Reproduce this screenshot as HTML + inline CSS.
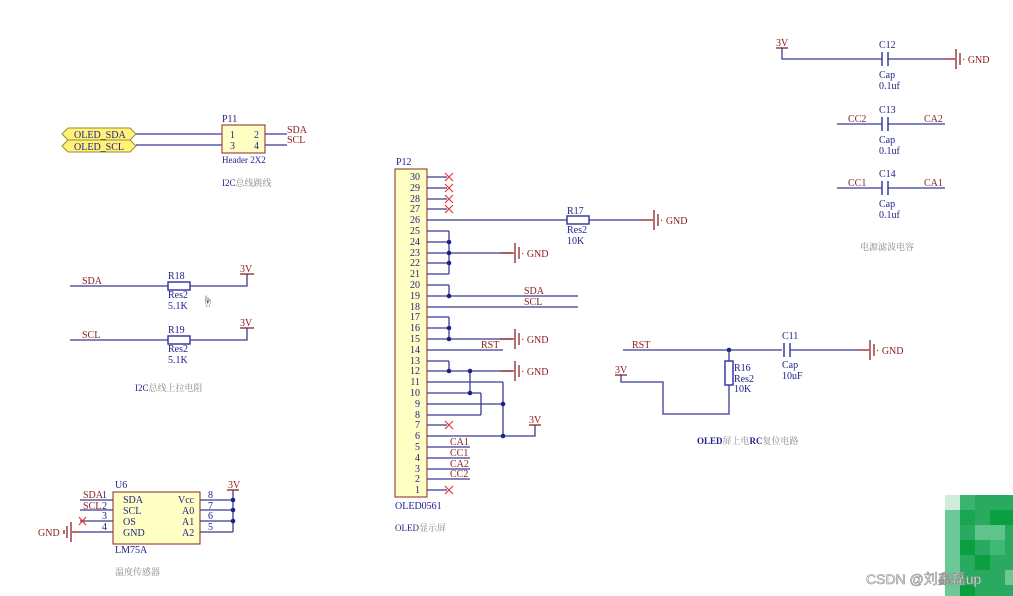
<!DOCTYPE html>
<html><head><meta charset="utf-8"><style>
html,body{margin:0;padding:0;background:#fff;}
svg{display:block;}
text{font-family:"Liberation Serif","Noto Serif CJK SC",serif;font-size:10px;}
.w{stroke:#3a3a94;stroke-width:1.3;fill:none;}
.r{stroke:#8b2323;stroke-width:1.3;fill:none;}
.b{fill:#20208a;}
.n{fill:#8b1a1a;}
.g{fill:#888;font-size:9px;}
.x{stroke:#e83030;stroke-width:1.1;}
</style></head><body>
<svg width="1013" height="596" viewBox="0 0 1013 596" xmlns="http://www.w3.org/2000/svg">
<rect width="1013" height="596" fill="#fff"/>

<!-- P11 header -->
<polygon points="62,134 68,128 130,128 136,134 130,140 68,140" fill="#fff27a" stroke="#a08a20"/>
<polygon points="62,146 68,140 130,140 136,146 130,152 68,152" fill="#fff27a" stroke="#a08a20"/>
<text x="74" y="138" class="b">OLED_SDA</text>
<text x="74" y="150" class="b">OLED_SCL</text>
<line x1="136" y1="134" x2="222" y2="134" class="w"/>
<line x1="136" y1="145" x2="222" y2="145" class="w"/>
<rect x="222" y="125" width="43" height="28" fill="#ffffc4" stroke="#8b2323"/>
<text x="222" y="122" class="b">P11</text>
<text x="230" y="138" class="b">1</text><text x="254" y="138" class="b">2</text>
<text x="230" y="149" class="b">3</text><text x="254" y="149" class="b">4</text>
<line x1="265" y1="134" x2="287" y2="134" class="w"/>
<line x1="265" y1="145" x2="287" y2="145" class="w"/>
<text x="287" y="133" class="n">SDA</text><text x="287" y="143" class="n">SCL</text>
<text x="222" y="163" class="b" style="font-size:9px">Header 2X2</text>
<text x="222" y="186" class="g"><tspan fill="#20208a">I2C</tspan>总线跳线</text>

<!-- pullups -->
<line x1="70" y1="286" x2="168" y2="286" class="w"/>
<rect x="168" y="282" width="22" height="8" fill="#fff" stroke="#3a3aa0" stroke-width="1.5"/>
<polyline points="190,286 247,286 247,274" class="w"/>
<line x1="240" y1="274" x2="254" y2="274" class="r"/>
<text x="240" y="272" class="n">3V</text>
<text x="82" y="284" class="n">SDA</text>
<text x="168" y="279" class="b">R18</text>
<text x="168" y="298" class="b">Res2</text>
<text x="168" y="309" class="b">5.1K</text>
<text x="202" y="305" fill="#333" style="font-size:11px">☝</text>
<line x1="70" y1="340" x2="168" y2="340" class="w"/>
<rect x="168" y="336" width="22" height="8" fill="#fff" stroke="#3a3aa0" stroke-width="1.5"/>
<polyline points="190,340 247,340 247,328" class="w"/>
<line x1="240" y1="328" x2="254" y2="328" class="r"/>
<text x="240" y="326" class="n">3V</text>
<text x="82" y="338" class="n">SCL</text>
<text x="168" y="333" class="b">R19</text>
<text x="168" y="352" class="b">Res2</text>
<text x="168" y="363" class="b">5.1K</text>
<text x="135" y="391" class="g"><tspan fill="#20208a">I2C</tspan>总线上拉电阻</text>

<!-- U6 -->
<rect x="113" y="492" width="87" height="52" fill="#ffffc4" stroke="#8b2323"/>
<text x="115" y="488" class="b">U6</text>
<text x="115" y="553" class="b">LM75A</text>
<text x="115" y="575" class="g">温度传感器</text>
<line x1="80" y1="500" x2="113" y2="500" class="w"/>
<line x1="80" y1="510" x2="113" y2="510" class="w"/>
<line x1="80" y1="521" x2="113" y2="521" class="w"/>
<line x1="80" y1="532" x2="113" y2="532" class="w"/>
<text x="83" y="498" class="n">SDA</text>
<text x="83" y="509" class="n">SCL</text>
<g class="b" text-anchor="end">
<text x="107" y="498">1</text><text x="107" y="509">2</text>
<text x="107" y="519">3</text><text x="107" y="530">4</text>
</g>
<text x="123" y="503" class="b">SDA</text><text x="123" y="514" class="b">SCL</text>
<text x="123" y="525" class="b">OS</text><text x="123" y="536" class="b">GND</text>
<text x="178" y="503" class="b">Vcc</text><text x="182" y="514" class="b">A0</text>
<text x="182" y="525" class="b">A1</text><text x="182" y="536" class="b">A2</text>
<line x1="79" y1="517" x2="86" y2="525" class="x"/><line x1="86" y1="517" x2="79" y2="525" class="x"/>
<line x1="72" y1="532" x2="80" y2="532" class="r"/>
<line x1="71" y1="522" x2="71" y2="542" class="r"/>
<line x1="67" y1="526" x2="67" y2="538" class="r"/>
<line x1="64" y1="530" x2="64" y2="534" class="r"/>
<text x="38" y="536" class="n">GND</text>
<line x1="200" y1="500" x2="233" y2="500" class="w"/>
<line x1="200" y1="510" x2="233" y2="510" class="w"/>
<line x1="200" y1="521" x2="233" y2="521" class="w"/>
<line x1="200" y1="532" x2="233" y2="532" class="w"/>
<text x="208" y="498" class="b">8</text><text x="208" y="509" class="b">7</text>
<text x="208" y="519" class="b">6</text><text x="208" y="530" class="b">5</text>
<line x1="233" y1="490" x2="233" y2="532" class="w"/>
<line x1="227" y1="490" x2="239" y2="490" class="r"/>
<text x="228" y="488" class="n">3V</text>
<circle cx="233" cy="500" r="2.3" fill="#20208a"/><circle cx="233" cy="510" r="2.3" fill="#20208a"/><circle cx="233" cy="521" r="2.3" fill="#20208a"/>

<!-- P12 -->
<rect x="395" y="169" width="32" height="328" fill="#ffffc4" stroke="#8b2323"/>
<text x="396" y="165" class="b">P12</text>
<text x="395" y="509" class="b">OLED0561</text>
<text x="395" y="531" class="g"><tspan fill="#20208a">OLED</tspan>显示屏</text>
<g class="b" text-anchor="end">
<text x="420" y="180">30</text><text x="420" y="191">29</text><text x="420" y="202">28</text><text x="420" y="212">27</text><text x="420" y="223">26</text>
<text x="420" y="234">25</text><text x="420" y="245">24</text><text x="420" y="256">23</text><text x="420" y="266">22</text><text x="420" y="277">21</text>
<text x="420" y="288">20</text><text x="420" y="299">19</text><text x="420" y="310">18</text><text x="420" y="320">17</text><text x="420" y="331">16</text>
<text x="420" y="342">15</text><text x="420" y="353">14</text><text x="420" y="364">13</text><text x="420" y="374">12</text><text x="420" y="385">11</text>
<text x="420" y="396">10</text><text x="420" y="407">9</text><text x="420" y="418">8</text><text x="420" y="428">7</text><text x="420" y="439">6</text>
<text x="420" y="450">5</text><text x="420" y="461">4</text><text x="420" y="472">3</text><text x="420" y="482">2</text><text x="420" y="493">1</text>
</g>
<g class="w">
<line x1="427" y1="177" x2="447" y2="177"/><line x1="427" y1="188" x2="447" y2="188"/><line x1="427" y1="199" x2="447" y2="199"/><line x1="427" y1="209" x2="447" y2="209"/>
<line x1="427" y1="220" x2="567" y2="220"/>
<line x1="427" y1="231" x2="449" y2="231"/><line x1="427" y1="242" x2="449" y2="242"/><line x1="427" y1="253" x2="512" y2="253"/><line x1="427" y1="263" x2="449" y2="263"/><line x1="427" y1="274" x2="449" y2="274"/>
<line x1="449" y1="231" x2="449" y2="274"/>
<line x1="427" y1="285" x2="449" y2="285"/><line x1="449" y1="285" x2="449" y2="296"/>
<line x1="427" y1="296" x2="578" y2="296"/><line x1="427" y1="307" x2="578" y2="307"/>
<line x1="427" y1="317" x2="449" y2="317"/><line x1="427" y1="328" x2="449" y2="328"/><line x1="427" y1="339" x2="512" y2="339"/><line x1="449" y1="317" x2="449" y2="339"/>
<line x1="427" y1="350" x2="503" y2="350"/>
<line x1="427" y1="361" x2="449" y2="361"/><line x1="449" y1="361" x2="449" y2="371"/><line x1="427" y1="371" x2="512" y2="371"/>
<line x1="470" y1="371" x2="470" y2="393"/>
<line x1="427" y1="382" x2="503" y2="382"/>
<line x1="427" y1="393" x2="481" y2="393"/><line x1="427" y1="404" x2="503" y2="404"/><line x1="427" y1="415" x2="481" y2="415"/><line x1="481" y1="393" x2="481" y2="415"/>
<line x1="503" y1="382" x2="503" y2="436"/>
<line x1="427" y1="425" x2="447" y2="425"/>
<polyline points="427,436 535,436 535,425"/>
<line x1="427" y1="447" x2="470" y2="447"/><line x1="427" y1="458" x2="470" y2="458"/><line x1="427" y1="469" x2="470" y2="469"/><line x1="427" y1="479" x2="470" y2="479"/>
<line x1="427" y1="490" x2="447" y2="490"/>
</g>
<line x1="529" y1="425" x2="541" y2="425" class="r"/>
<text x="529" y="423" class="n">3V</text>
<g fill="#20208a">
<circle cx="449" cy="242" r="2.3"/><circle cx="449" cy="253" r="2.3"/><circle cx="449" cy="263" r="2.3"/>
<circle cx="449" cy="296" r="2.3"/><circle cx="449" cy="328" r="2.3"/><circle cx="449" cy="339" r="2.3"/>
<circle cx="449" cy="371" r="2.3"/><circle cx="470" cy="371" r="2.3"/><circle cx="470" cy="393" r="2.3"/>
<circle cx="503" cy="404" r="2.3"/><circle cx="503" cy="436" r="2.3"/>
</g>
<g class="x">
<path d="M445,173 l8,8 M453,173 l-8,8"/><path d="M445,184 l8,8 M453,184 l-8,8"/><path d="M445,195 l8,8 M453,195 l-8,8"/><path d="M445,205 l8,8 M453,205 l-8,8"/>
<path d="M445,421 l8,8 M453,421 l-8,8"/><path d="M445,486 l8,8 M453,486 l-8,8"/>
</g>
<text x="524" y="294" class="n">SDA</text><text x="524" y="305" class="n">SCL</text>
<text x="481" y="348" class="n">RST</text>
<text x="450" y="445" class="n">CA1</text><text x="450" y="456" class="n">CC1</text><text x="450" y="467" class="n">CA2</text><text x="450" y="477" class="n">CC2</text>
<g class="r">
<line x1="500" y1="253" x2="514" y2="253"/><line x1="515" y1="243" x2="515" y2="263"/><line x1="519" y1="247" x2="519" y2="259"/>
<line x1="500" y1="339" x2="514" y2="339"/><line x1="515" y1="329" x2="515" y2="349"/><line x1="519" y1="333" x2="519" y2="345"/>
<line x1="500" y1="371" x2="514" y2="371"/><line x1="515" y1="361" x2="515" y2="381"/><line x1="519" y1="365" x2="519" y2="377"/>
</g>
<text x="521" y="257" class="n">· GND</text><text x="521" y="343" class="n">· GND</text><text x="521" y="375" class="n">· GND</text>
<rect x="567" y="216" width="22" height="8" fill="#fff" stroke="#3a3aa0" stroke-width="1.5"/>
<line x1="589" y1="220" x2="640" y2="220" class="w"/>
<g class="r"><line x1="640" y1="220" x2="653" y2="220"/><line x1="654" y1="210" x2="654" y2="230"/><line x1="658" y1="214" x2="658" y2="226"/></g>
<text x="660" y="224" class="n">· GND</text>
<text x="567" y="214" class="b">R17</text><text x="567" y="233" class="b">Res2</text><text x="567" y="244" class="b">10K</text>

<!-- RC reset -->
<line x1="623" y1="350" x2="782" y2="350" class="w"/>
<text x="632" y="348" class="n">RST</text>
<circle cx="729" cy="350" r="2.3" fill="#20208a"/>
<line x1="729" y1="350" x2="729" y2="361" class="w"/>
<rect x="725" y="361" width="8" height="24" fill="#fff" stroke="#3a3aa0" stroke-width="1.5"/>
<polyline points="729,385 729,414 663,414 663,382 621,382 621,375" class="w"/>
<line x1="615" y1="375" x2="627" y2="375" class="r"/>
<text x="615" y="373" class="n">3V</text>
<text x="734" y="371" class="b">R16</text><text x="734" y="382" class="b">Res2</text><text x="734" y="392" class="b">10K</text>
<line x1="784" y1="343" x2="784" y2="357" stroke="#3a3aa0" stroke-width="1.5"/><line x1="790" y1="343" x2="790" y2="357" stroke="#3a3aa0" stroke-width="1.5"/>
<line x1="790" y1="350" x2="858" y2="350" class="w"/>
<g class="r"><line x1="858" y1="350" x2="869" y2="350"/><line x1="870" y1="340" x2="870" y2="360"/><line x1="874" y1="344" x2="874" y2="356"/></g>
<text x="876" y="354" class="n">· GND</text>
<text x="782" y="339" class="b">C11</text><text x="782" y="368" class="b">Cap</text><text x="782" y="379" class="b">10uF</text>
<text x="697" y="444" class="g"><tspan fill="#20208a" font-weight="bold">OLED</tspan>屏上电<tspan fill="#20208a" font-weight="bold">RC</tspan>复位电路</text>

<!-- caps top right -->
<line x1="776" y1="48" x2="788" y2="48" class="r"/>
<text x="776" y="46" class="n">3V</text>
<polyline points="782,48 782,59 882,59" class="w"/>
<line x1="882" y1="52" x2="882" y2="66" stroke="#3a3aa0" stroke-width="1.5"/><line x1="888" y1="52" x2="888" y2="66" stroke="#3a3aa0" stroke-width="1.5"/>
<line x1="888" y1="59" x2="945" y2="59" class="w"/>
<g class="r"><line x1="945" y1="59" x2="955" y2="59"/><line x1="956" y1="49" x2="956" y2="69"/><line x1="960" y1="53" x2="960" y2="65"/></g>
<text x="962" y="63" class="n">· GND</text>
<text x="879" y="48" class="b">C12</text><text x="879" y="78" class="b">Cap</text><text x="879" y="89" class="b">0.1uf</text>

<line x1="837" y1="124" x2="882" y2="124" class="w"/>
<line x1="882" y1="117" x2="882" y2="131" stroke="#3a3aa0" stroke-width="1.5"/><line x1="888" y1="117" x2="888" y2="131" stroke="#3a3aa0" stroke-width="1.5"/>
<line x1="888" y1="124" x2="945" y2="124" class="w"/>
<text x="848" y="122" class="n">CC2</text><text x="924" y="122" class="n">CA2</text>
<text x="879" y="113" class="b">C13</text><text x="879" y="143" class="b">Cap</text><text x="879" y="154" class="b">0.1uf</text>

<line x1="837" y1="188" x2="882" y2="188" class="w"/>
<line x1="882" y1="181" x2="882" y2="195" stroke="#3a3aa0" stroke-width="1.5"/><line x1="888" y1="181" x2="888" y2="195" stroke="#3a3aa0" stroke-width="1.5"/>
<line x1="888" y1="188" x2="945" y2="188" class="w"/>
<text x="848" y="186" class="n">CC1</text><text x="924" y="186" class="n">CA1</text>
<text x="879" y="177" class="b">C14</text><text x="879" y="207" class="b">Cap</text><text x="879" y="218" class="b">0.1uf</text>
<text x="860" y="250" class="g">电源滤波电容</text>

<!-- watermark block -->
<g>
<rect x="945" y="495" width="68" height="101" fill="#2aaa60"/>
<rect x="945" y="495" width="15" height="15" fill="#d0ecdc"/>
<rect x="960" y="495" width="15" height="15" fill="#3cb371"/>
<rect x="945" y="510" width="15" height="86" fill="#6cc896"/>
<rect x="960" y="510" width="15" height="15" fill="#1aa550"/>
<rect x="990" y="510" width="23" height="15" fill="#0aa040"/>
<rect x="975" y="525" width="30" height="15" fill="#5ec48c"/>
<rect x="960" y="540" width="15" height="15" fill="#0aa040"/>
<rect x="990" y="540" width="15" height="15" fill="#40b878"/>
<rect x="975" y="555" width="15" height="15" fill="#0aa040"/>
<rect x="1005" y="570" width="8" height="15" fill="#6cc896"/>
<rect x="960" y="585" width="15" height="11" fill="#0aa040"/>
</g>
<text x="866" y="584" style="font-family:'Liberation Sans','Noto Sans CJK SC',sans-serif;font-size:14px" fill="#fff" stroke="#888" stroke-width="0.6">CSDN @刘鑫磊up</text>
</svg>
</body></html>
